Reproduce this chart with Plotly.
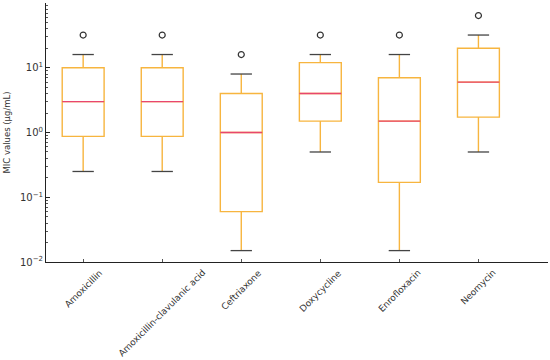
import plotly.graph_objects as go

categories = ["Amoxicillin", "Amoxicillin-clavulanic acid", "Ceftriaxone",
              "Doxycycline", "Enrofloxacin", "Neomycin"]
lower_whisker = [0.25, 0.25, 0.015, 0.5, 0.015, 0.5]
q1 = [0.87, 0.87, 0.06, 1.5, 0.17, 1.73]
median = [3, 3, 1, 4, 1.5, 6]
q3 = [10, 10, 4, 12, 7, 20]
upper_whisker = [16, 16, 8, 16, 16, 32]
outliers = [32, 32, 16, 32, 32, 64]
ytick_vals = [0.01, 0.1, 1, 10]
ytick_text = ["10<sup>−2</sup>", "10<sup>−1</sup>", "10<sup>0</sup>", "10<sup>1</sup>"]

box_color = "#F7B53F"
median_color = "#E8466E"
cap_color = "#444444"
box_w = 0.53
cap_w = 0.27

pos = list(range(len(categories)))

fig = go.Figure()
fig.add_trace(go.Box(
    x=pos, q1=q1, median=median, q3=q3,
    lowerfence=lower_whisker, upperfence=upper_whisker,
    width=box_w, whiskerwidth=0,
    line=dict(color=box_color, width=1.4),
    fillcolor="rgba(255,255,255,0)",
    boxpoints=False, showlegend=False, hoverinfo="skip",
))

# medians and caps
mx, my = [], []
cx, cy = [], []
for i in pos:
    mx += [i - box_w / 2, i + box_w / 2, None]
    my += [median[i], median[i], None]
    for w in (lower_whisker[i], upper_whisker[i]):
        cx += [i - cap_w / 2, i + cap_w / 2, None]
        cy += [w, w, None]
fig.add_trace(go.Scatter(x=mx, y=my, mode="lines",
                         line=dict(color=median_color, width=1.3),
                         showlegend=False, hoverinfo="skip"))
fig.add_trace(go.Scatter(x=cx, y=cy, mode="lines",
                         line=dict(color=cap_color, width=1.3),
                         showlegend=False, hoverinfo="skip"))
fig.add_trace(go.Scatter(x=pos, y=outliers, mode="markers", cliponaxis=False,
                         marker=dict(symbol="circle-open", size=6,
                                     color="#333333", line=dict(width=1.2)),
                         showlegend=False, hoverinfo="skip"))

# rotated category labels centred on their ticks
for i, name in zip(pos, categories):
    fig.add_annotation(x=i, xref="x", y=0, yref="paper", yshift=-3,
                       text=name, textangle=-45, showarrow=False,
                       xanchor="center", yanchor="top",
                       font=dict(size=9, color="#333333"))

fig.update_layout(
    width=550, height=360,
    margin=dict(l=46, r=2, t=3, b=98),
    paper_bgcolor="white", plot_bgcolor="white",
    font=dict(family="DejaVu Sans", size=10, color="#333333"),
)
fig.update_xaxes(
    range=[-0.47, 5.88], tickmode="array", tickvals=pos, showticklabels=False,
    ticks="inside", ticklen=3, tickcolor="#555", automargin=False,
    showline=True, linecolor="#222", linewidth=1, showgrid=False, zeroline=False,
)
fig.update_yaxes(
    type="log", range=[-2, 2], tickmode="array", tickvals=ytick_vals,
    ticktext=ytick_text, ticks="inside", ticklen=4, tickcolor="#222",
    minor=dict(ticks="inside", ticklen=2, tickcolor="#555", dtick="D1"),
    showline=True, linecolor="#222", linewidth=1, showgrid=False, zeroline=False,
    automargin=False,
    title=dict(text="MIC values (µg/mL)", font=dict(size=8.5, color="#333333"), standoff=7),
    tickfont=dict(size=10, color="#333333"),
)

fig.write_html("out.html", config={"displayModeBar": False},
               post_script="document.body.style.margin='0';document.body.style.overflow='hidden';")
